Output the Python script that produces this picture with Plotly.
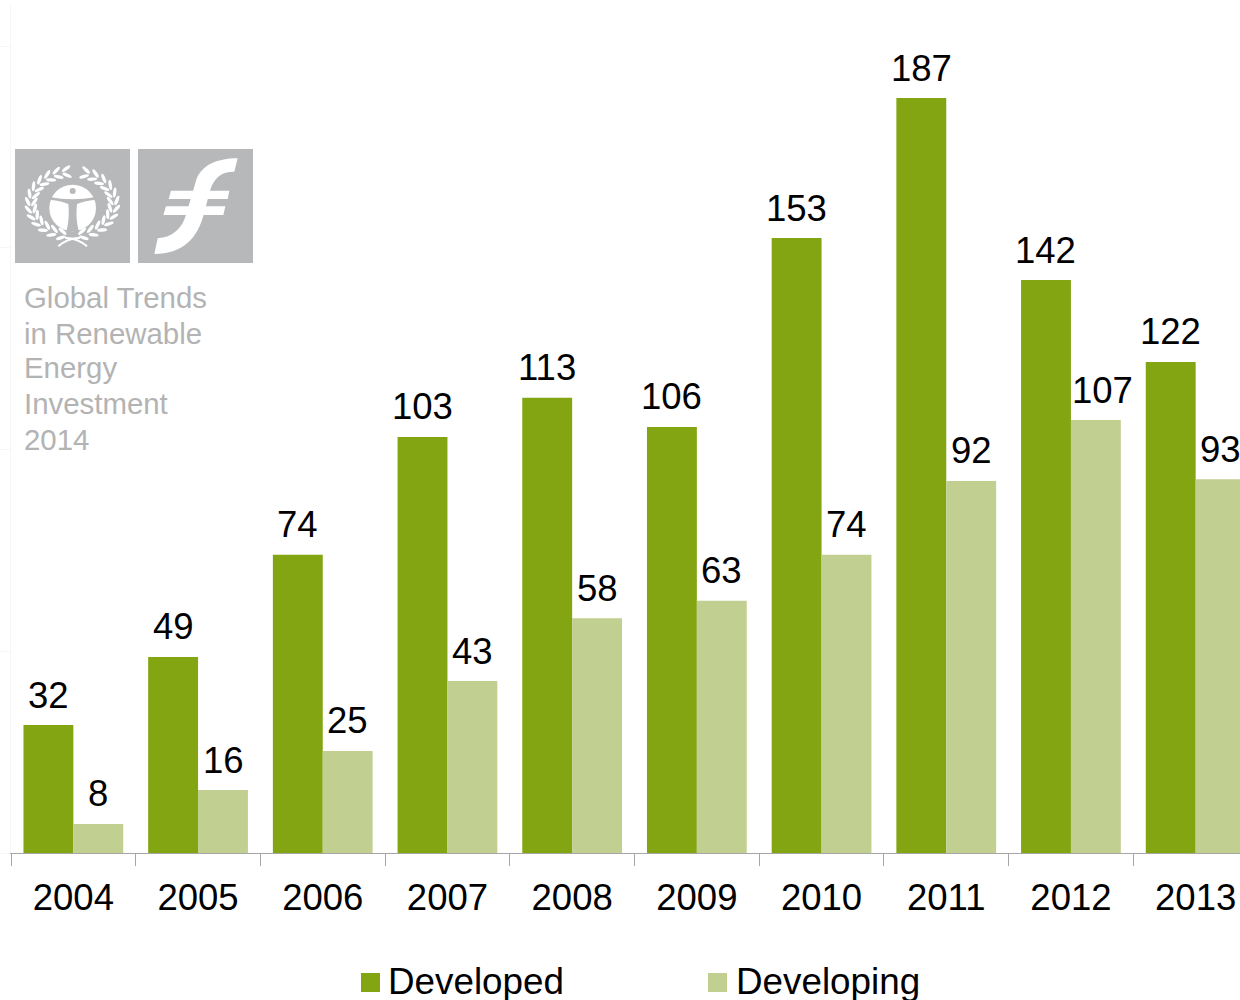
import base64
import math
import plotly.graph_objects as go

years = ["2004", "2005", "2006", "2007", "2008", "2009", "2010", "2011", "2012", "2013"]
developed = [31.7, 48.6, 73.9, 103.1, 112.8, 105.6, 152.4, 187.1, 142.0, 121.7]
developing = [7.2, 15.6, 25.3, 42.6, 58.2, 62.5, 73.9, 92.2, 107.3, 92.6]
developed_labels = ["32", "49", "74", "103", "113", "106", "153", "187", "142", "122"]
developing_labels = ["8", "16", "25", "43", "58", "63", "74", "92", "107", "93"]
side_lines = ["Global Trends", "in Renewable", "Energy", "Investment", "2014"]
series_names = ["Developed", "Developing"]

GREEN = "#82A511"
LIGHT = "#C1CF91"
GREY = "#B6B8BA"
FONT = "Liberation Sans, Arial, sans-serif"

W, H = 1240, 1000
L, T, B = 11, 5, 147
BOTTOM = H - B
def px(x):
    return (x - L) / (W - L)
def py(y):
    return (BOTTOM - y) / (BOTTOM - T)


def leaves(cx, cy, rx, ry, a0, a1, n):
    out = []
    for i in range(n):
        a = math.radians(a0 + (a1 - a0) * i / (n - 1))
        d = 1 if a1 > a0 else -1
        tangent = math.degrees(math.atan2(ry * math.cos(a), -rx * math.sin(a)))
        for off, tilt in ((10, -30 * d), (-10, 30 * d)):
            x = cx + (rx + off) * math.cos(a)
            y = cy + (ry + off) * math.sin(a)
            out.append(
                f'<ellipse cx="{x:.1f}" cy="{y:.1f}" rx="15" ry="5" fill="white" '
                f'transform="rotate({tangent + tilt:.1f} {x:.1f} {y:.1f})"/>'
            )
    return "".join(out)


un_svg = (
    '<svg xmlns="http://www.w3.org/2000/svg" viewBox="0 0 345 342" width="345" height="342">'
    f'<rect width="345" height="342" fill="{GREY}"/>'
    '<circle cx="173" cy="177" r="70" fill="white"/>'
    f'<g fill="{GREY}"><circle cx="173" cy="126" r="9"/>'
    '<path d="M104,144 Q173,158 242,144 L242,152 Q205,156 186,165 '
    'C183,195 185,225 192,247 L154,247 C161,225 163,195 160,165 Q141,156 104,152 Z"/></g>'
    + leaves(172, 164, 124, 96, 105, 262, 13)
    + leaves(172, 164, 124, 96, 75, -72, 12)
    + '<path d="M130,292 Q155,268 195,266 M216,292 Q190,268 150,266" stroke="white" stroke-width="6" fill="none"/>'
    '</svg>'
)
ffs_svg = (
    '<svg xmlns="http://www.w3.org/2000/svg" viewBox="6 0 345 342" width="345" height="342">'
    f'<rect x="6" width="345" height="342" fill="{GREY}"/>'
    '<g fill="white">'
    '<path d="M305,28 L295,68 C255,68 235,85 222,125 L205,190 C185,270 140,315 55,315 L65,268 '
    'C110,265 138,238 150,198 L180,95 C195,50 240,28 305,28 Z"/>'
    '<path d="M105,125 L280,125 L275,150 L98,150 Z"/>'
    '<path d="M90,172 L268,172 L262,198 L82,198 Z"/>'
    '</g></svg>'
)


def uri(svg):
    return "data:image/svg+xml;base64," + base64.b64encode(svg.encode()).decode()


fig = go.Figure()
for name, vals, col in ((series_names[0], developed, GREEN), (series_names[1], developing, LIGHT)):
    fig.add_bar(x=years, y=vals, name=name, marker=dict(color=col, line=dict(width=0)),
                showlegend=False, cliponaxis=False)

images = [
    dict(source=uri(un_svg), xref="paper", yref="paper", x=px(15), y=py(149),
         sizex=115 / (W - L), sizey=114 / (BOTTOM - T), xanchor="left", yanchor="top",
         sizing="stretch", layer="above"),
    dict(source=uri(ffs_svg), xref="paper", yref="paper", x=px(138), y=py(149),
         sizex=115 / (W - L), sizey=114 / (BOTTOM - T), xanchor="left", yanchor="top",
         sizing="stretch", layer="above"),
]

annotations = []
for vals, labels, shift in ((developed, developed_labels, -25), (developing, developing_labels, 25)):
    for i, (v, lab) in enumerate(zip(vals, labels)):
        annotations.append(dict(
            text=lab, x=i, y=v, xref="x", yref="y", showarrow=False,
            xanchor="center", yanchor="middle", xshift=32 if lab == "107" else shift, yshift=30,
            font=dict(family=FONT, size=36.5, color="black"),
        ))
for line, yc in zip(side_lines, (297, 333, 367, 403, 439)):
    annotations.append(dict(
        text=line, xref="paper", yref="paper", x=px(23), y=py(yc), xanchor="left", yanchor="middle",
        showarrow=False, font=dict(family=FONT, size=29.4, color="#B3B3B3"), xshift=-1,
    ))
shapes = []
for name, col, sx, tx in ((series_names[0], GREEN, 361, 387), (series_names[1], LIGHT, 708, 735)):
    shapes.append(dict(type="rect", xref="paper", yref="paper", x0=px(sx), x1=px(sx + 19),
                       y0=py(992), y1=py(973), fillcolor=col, line=dict(width=0)))
    annotations.append(dict(
        text=name, xref="paper", yref="paper", x=px(tx), y=py(982), xanchor="left", yanchor="middle",
        showarrow=False, font=dict(family=FONT, size=36.8, color="black"), xshift=-1,
    ))

fig.update_layout(
    width=W, height=H, barmode="group", bargap=0.2, bargroupgap=0,
    margin=dict(l=L, r=0, t=T, b=B, pad=0),
    plot_bgcolor="white", paper_bgcolor="white", showlegend=False,
    images=images, annotations=annotations, shapes=shapes,
    xaxis=dict(
        type="category", range=[-0.5, (W - L) / 124.7 - 0.5], tickson="boundaries",
        ticks="outside", ticklen=12, tickcolor="#A6A6A6", tickwidth=1,
        showline=True, linecolor="#A6A6A6", linewidth=1, showgrid=False,
        tickfont=dict(family=FONT, size=36.5, color="black"), ticklabelstandoff=12,
    ),
    yaxis=dict(
        range=[0, (BOTTOM - T) / 4.035], tickvals=[0, 50, 100, 150, 200],
        showticklabels=False, ticks="outside", ticklen=11, tickcolor="#F6F6F6", tickwidth=1,
        showline=True, linecolor="#F6F6F6", linewidth=1, showgrid=False, zeroline=False,
    ),
)
fig.write_html(
    "out.html",
    config={"displayModeBar": False},
    post_script="document.body.style.margin='0';document.documentElement.style.overflow='hidden';",
)
